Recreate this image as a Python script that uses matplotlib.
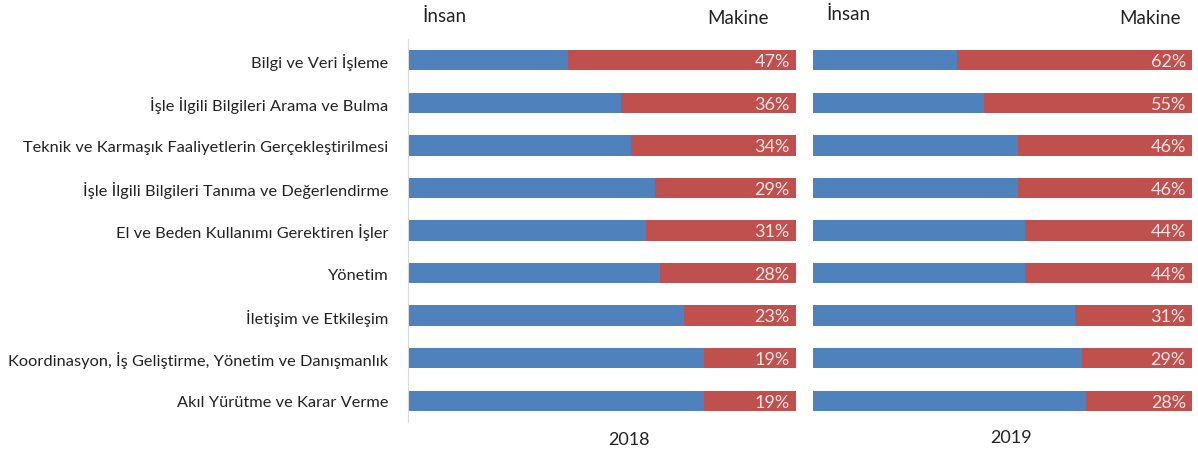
import matplotlib
matplotlib.use("Agg")
import matplotlib.pyplot as plt
import numpy as np

plt.rcParams['font.family'] = ['Lato', 'DejaVu Sans']

categories = [
    "Bilgi ve Veri İşleme",
    "İşle İlgili Bilgileri Arama ve Bulma",
    "Teknik ve Karmaşık Faaliyetlerin Gerçekleştirilmesi",
    "İşle İlgili Bilgileri Tanıma ve Değerlendirme",
    "El ve Beden Kullanımı Gerektiren İşler",
    "Yönetim",
    "İletişim ve Etkileşim",
    "Koordinasyon, İş Geliştirme, Yönetim ve Danışmanlık",
    "Akıl Yürütme ve Karar Verme",
]
makine_2018 = [47, 36, 34, 29, 31, 28, 23, 19, 19]
makine_2019 = [62, 55, 46, 46, 44, 44, 31, 29, 28]
insan_2018 = [100 - v for v in makine_2018]
insan_2019 = [100 - v for v in makine_2019]
years = ["2018", "2019"]
series_names = ["İnsan", "Makine"]

BLUE = "#4F81BD"
RED = "#C0504D"
LABEL = "#F6E4E3"

W, H = 1198, 456
fig = plt.figure(figsize=(W / 100, H / 100), dpi=100)

def fx(px):
    return px / W

def fy(py):
    return 1 - py / H

top, bot = 40, 423
ax1 = fig.add_axes([fx(408), fy(bot), fx(796 - 408), (bot - top) / H])
ax2 = fig.add_axes([fx(813), fy(bot), fx(1192 - 813), (bot - top) / H])

y = np.arange(len(categories))
bh = 0.48

for ax, ins, mak, xmin in [(ax1, insan_2018, makine_2018, 20), (ax2, insan_2019, makine_2019, 0)]:
    ax.barh(y, ins, height=bh, color=BLUE, left=0)
    ax.barh(y, mak, height=bh, left=ins, color=RED)
    for yi, m in zip(y, mak):
        ax.text(100 - (100 - xmin) * 0.016, yi + 0.02, f"{m}%", ha="right", va="center",
                color=LABEL, fontsize=13)
    ax.set_xlim(xmin, 100)
    ax.set_ylim(len(categories) - 0.5, -0.5)
    ax.set_xticks([])
    for s in ax.spines.values():
        s.set_visible(False)

ax1.spines['left'].set_visible(True)
ax1.spines['left'].set_color("#d9d9d9")
ax1.set_yticks(y)
ax1.set_yticklabels(categories, fontsize=11.8, color="#222222")
ax1.tick_params(axis='y', length=0, pad=14)
ax2.set_yticks([])

# series header labels
fig.text(fx(423), fy(16), series_names[0], fontsize=13.5, color="#222222", va="center", ha="left")
fig.text(fx(769), fy(18), series_names[1], fontsize=13.5, color="#222222", va="center", ha="right")
fig.text(fx(827), fy(14), series_names[0], fontsize=13.5, color="#222222", va="center", ha="left")
fig.text(fx(1181), fy(18), series_names[1], fontsize=13.5, color="#222222", va="center", ha="right")

# year labels
fig.text(fx(629), fy(440), years[0], fontsize=13, color="#222222", va="center", ha="center")
fig.text(fx(1011), fy(438), years[1], fontsize=13, color="#222222", va="center", ha="center")

fig.savefig("out.png", dpi=100)
